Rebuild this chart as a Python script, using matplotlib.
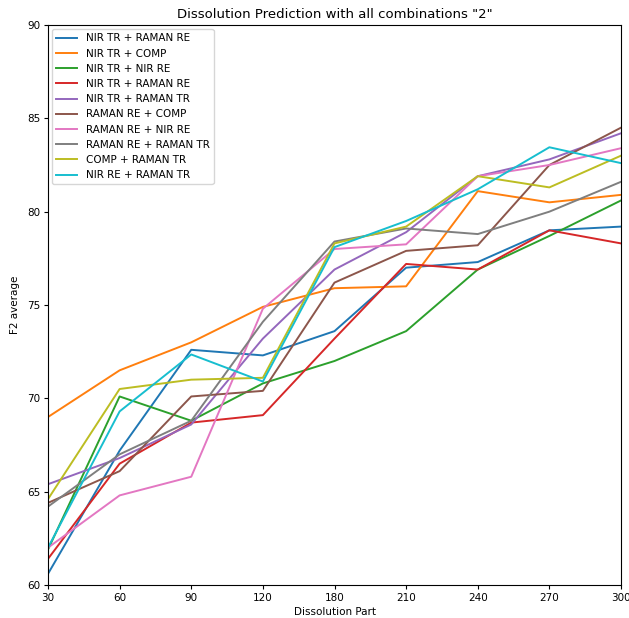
import matplotlib
matplotlib.use("Agg")
import matplotlib.pyplot as plt

parts = ["30", "60", "90", "120", "180", "210", "240", "270", "300"]
labels = ["NIR TR + RAMAN RE", "NIR TR + COMP", "NIR TR + NIR RE", "NIR TR + RAMAN RE",
          "NIR TR + RAMAN TR", "RAMAN RE + COMP", "RAMAN RE + NIR RE",
          "RAMAN RE + RAMAN TR", "COMP + RAMAN TR", "NIR RE + RAMAN TR"]

s_nirtr_ramanre = [60.6, 67.2, 72.6, 72.3, 73.6, 77.0, 77.3, 79.0, 79.2]
s_nirtr_comp = [69.0, 71.5, 73.0, 74.9, 75.9, 76.0, 81.1, 80.5, 80.9]
s_nirtr_nirre = [61.9, 70.1, 68.8, 70.8, 72.0, 73.6, 76.9, 78.7, 80.6]
s_nirtr_ramanre2 = [61.4, 66.5, 68.7, 69.1, 73.2, 77.2, 76.9, 79.0, 78.3]
s_nirtr_ramantr = [65.4, 66.8, 68.6, 73.2, 76.9, 78.9, 81.9, 82.8, 84.2]
s_ramanre_comp = [64.4, 66.1, 70.1, 70.4, 76.2, 77.9, 78.2, 82.5, 84.5]
s_ramanre_nirre = [62.0, 64.8, 65.8, 74.8, 78.0, 78.25, 81.9, 82.5, 83.4]
s_ramanre_ramantr = [64.2, 67.0, 68.8, 74.1, 78.4, 79.1, 78.8, 80.0, 81.6]
s_comp_ramantr = [64.6, 70.5, 71.0, 71.1, 78.3, 79.2, 81.9, 81.3, 83.0]
s_nirre_ramantr = [62.0, 69.3, 72.35, 70.9, 78.1, 79.5, 81.2, 83.45, 82.6]

series = [s_nirtr_ramanre, s_nirtr_comp, s_nirtr_nirre, s_nirtr_ramanre2, s_nirtr_ramantr,
          s_ramanre_comp, s_ramanre_nirre, s_ramanre_ramantr, s_comp_ramantr, s_nirre_ramantr]

fig = plt.figure(figsize=(6.29, 6.18), dpi=100)
ax = fig.add_axes([48/629, 1-585/618, (621-48)/629, (585-25)/618])
x = list(range(len(parts)))
for s, lab in zip(series, labels):
    ax.plot(x, s, label=lab, linewidth=1.4)

ax.set_xticks(x)
ax.set_xticklabels(parts)
ax.set_xlim(0, len(parts) - 1)
ax.set_ylim(60, 90)
ax.set_xlabel("Dissolution Part", fontsize=7.5, labelpad=3)
ax.set_ylabel("F2 average", fontsize=7.5, labelpad=5)
ax.set_title('Dissolution Prediction with all combinations "2"', fontsize=9.5, pad=5)
ax.tick_params(labelsize=7.5, length=3, pad=2.5)
ax.legend(loc="upper left", fontsize=7.5, borderaxespad=0.4)
fig.savefig("out.png", dpi=100)
